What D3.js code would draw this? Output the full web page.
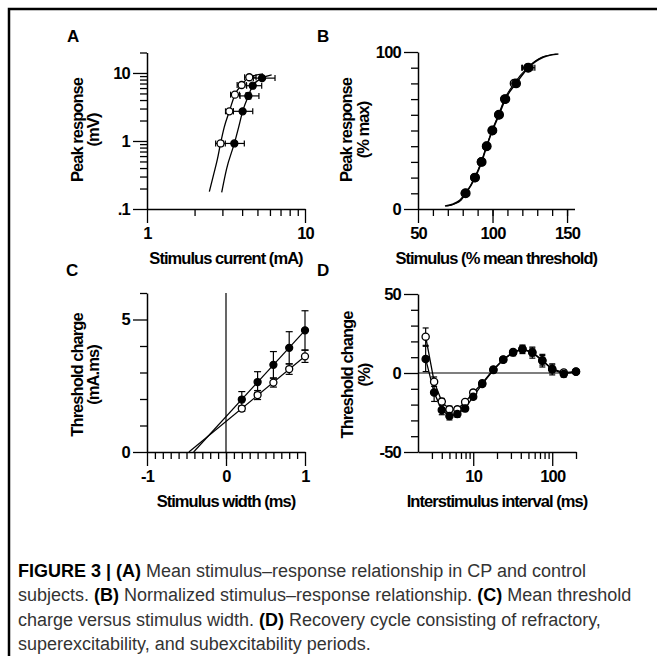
<!DOCTYPE html>
<html>
<head>
<meta charset="utf-8">
<script src="https://cdnjs.cloudflare.com/ajax/libs/d3/7.8.5/d3.min.js"></script>
<style>
  body { margin: 0; background: #fff; }
  svg text { font-family: "Liberation Sans", Arial, sans-serif; }
  .tick text { font-weight: bold; font-size: 16.5px; letter-spacing: -0.8px; fill: #000; }
  .ttl { font-weight: bold; font-size: 16.5px; letter-spacing: -0.95px; }
</style>
</head>
<body>
<svg id="fig" width="657" height="656"></svg>
<script>
// ---- A: stimulus-response (mA -> mV), log/log
const aCtrlX = [2.92, 3.32, 3.6, 3.97, 4.44];
const aCtrlXlo = [2.72, 3.14, 3.38, 3.72, 4.15];
const aCtrlXhi = [3.13, 3.52, 3.85, 4.25, 4.9];
const aCtrlY = [0.92, 2.73, 4.8, 6.66, 8.65];
const aCPX = [3.57, 4.03, 4.38, 4.67, 5.35];
const aCPXlo = [3.04, 3.52, 3.88, 4.27, 4.71];
const aCPXhi = [4.13, 4.67, 5.11, 5.32, 6.46];
const aCPY = [0.92, 2.73, 4.6, 6.5, 8.4];
const aCPYlo = [0.87, 2.55, 4.15, 6.1, 8.0];
const aCPYhi = [0.98, 2.9, 5.1, 6.9, 8.8];
const aCtrlCurveX = [2.48, 2.63, 2.79, 2.92, 3.08, 3.32, 3.6, 3.97, 4.44, 5.42];
const aCtrlCurveY = [0.18, 0.31, 0.54, 0.92, 1.59, 2.73, 4.8, 6.66, 8.65, 9.67];
const aCPCurveX = [2.97, 3.19, 3.57, 3.8, 4.03, 4.38, 4.67, 5.35, 6.15];
const aCPCurveY = [0.176, 0.39, 0.92, 1.59, 2.73, 4.6, 6.5, 8.4, 9.35];

// ---- B: normalised stimulus-response
const bResp = [10, 20, 30, 40, 50, 60, 70, 80, 90];
const bCPStim = [82, 88.3, 92.7, 96.1, 99.9, 104.4, 108.6, 115.8, 124];
const bCPErr = [1, 0.6, 0.5, 0.4, 0.4, 0.5, 0.7, 1.2, 4.4];
const bCtrlStim = [81.6, 88, 92.5, 96, 99.8, 104.1, 108.1, 114.6, 123.6];
const bCtrlErr = [1, 0.6, 0.5, 0.4, 0.4, 0.5, 0.7, 1.5, 3.5];
const bCurveY = [1.9, 3.2, 5.7, 10, 20, 30, 40, 50, 60, 70, 80, 90, 96.6, 98.7];
const bCPCurveX = [68.1, 73.7, 78.2, 82, 88.3, 92.7, 96.1, 99.9, 104.4, 108.6, 115.8, 124, 134, 144.2];
const bCtrlCurveX = [69, 74.5, 79, 82.3, 88, 92.4, 96, 99.7, 104, 108, 114.6, 123.5, 133, 143];

// ---- C: charge-duration
const cWidth = [0.2, 0.4, 0.6, 0.8, 1.0];
const cCP = [1.98, 2.64, 3.29, 3.93, 4.59];
const cCPErr = [0.3, 0.39, 0.5, 0.61, 0.74];
const cCtrl = [1.64, 2.15, 2.62, 3.13, 3.61];
const cCtrlErr = [0.1, 0.17, 0.17, 0.2, 0.23];
const cCPLineX = [-0.41, 1], cCPLineY = [0, 4.59];
const cCtrlLineX = [-0.47, 1], cCtrlLineY = [0, 3.61];

// ---- D: recovery cycle
const dISI = [2.5, 3.2, 4, 5, 6.3, 7.9, 10, 13, 18, 24, 32, 42, 56, 75, 100, 140, 200];
const dCP = [8.9, -12.4, -23.4, -27.2, -26, -22.4, -15, -7, 1.9, 8.4, 12.9, 15, 12.9, 7.8, 2.3, -0.6, 0.8];
const dCPErr = [8, 5.6, 3, 2.5, 2, 2, 1.5, 1.5, 1.5, 1.5, 2, 2.7, 3.5, 4, 3.5, 2, 1.5];
const dCtrl = [23, -5.5, -18.1, -23, -23, -18.4, -12.4, -6.5, 2.2, 8.6, 13.3, 15.2, 13.2, 8.0, 2.6, 0.3, 0.9];
const dCtrlErr = [5.5, 3, 2, 2, 1.5, 1.5, 1.5, 1.5, 1.5, 1.5, 1.5, 2, 2.5, 3, 2.5, 1.5, 1];

const caption = [
  [["FIGURE 3 | (A)", true], [" Mean stimulus\u2013response relationship in CP and control", false]],
  [["subjects. ", false], ["(B)", true], [" Normalized stimulus\u2013response relationship. ", false], ["(C)", true], [" Mean threshold", false]],
  [["charge versus stimulus width. ", false], ["(D)", true], [" Recovery cycle consisting of refractory,", false]],
  [["superexcitability, and subexcitability periods.", false]]
];

const svg = d3.select("#fig");

// frame (only top and left edges are inside the picture)
svg.append("rect").attr("x", 9).attr("y", 9).attr("width", 700).attr("height", 700)
  .attr("fill", "none").attr("stroke", "#000").attr("stroke-width", 2.5);

function axes(x, y, o) {
  const g = svg.append("g");
  const xb = y.range()[0], yl = x.range()[0];
  // minor ticks first
  g.append("g").attr("transform", `translate(0,${xb})`)
    .call(d3.axisBottom(x).tickValues(o.xMinor).tickSize(7).tickFormat(""))
    .call(s => s.select(".domain").remove());
  g.append("g").attr("transform", `translate(${yl},0)`)
    .call(d3.axisLeft(y).tickValues(o.yMinor).tickSize(7).tickFormat(""))
    .call(s => s.select(".domain").remove());
  g.append("g").attr("transform", `translate(0,${xb})`)
    .call(d3.axisBottom(x).tickValues(o.xMajor).tickSize(14).tickPadding(4).tickFormat(o.xFmt || (d => d)).tickSizeOuter(0));
  g.append("g").attr("transform", `translate(${yl},0)`)
    .call(d3.axisLeft(y).tickValues(o.yMajor).tickSize(14).tickPadding(3).tickFormat(o.yFmt || (d => d)).tickSizeOuter(0));
  g.selectAll(".domain").attr("stroke-width", 1.5);
  g.selectAll(".tick line").attr("stroke-width", 1.3);
  // titles
  g.append("text").attr("class", "ttl").attr("x", (x.range()[0] + x.range()[1]) / 2).attr("y", o.xTitleY)
    .attr("text-anchor", "middle").attr("dominant-baseline", "central").text(o.xTitle);
  o.yTitle.forEach((t, i) => {
    g.append("text").attr("class", "ttl")
      .attr("transform", `translate(${o.yTitleX[i]},${o.yTitleMid}) rotate(-90)`)
      .attr("text-anchor", "middle").attr("dominant-baseline", "central").text(t);
  });
  svg.append("text").attr("x", o.label[0]).attr("y", o.label[1])
    .attr("font-weight", "bold").attr("font-size", 17).text(o.label[2]);
}

function logMinor(lo, hi) {
  const v = [];
  for (let p = lo; p < hi; p *= 10) for (let k = 2; k <= 9; k++) v.push(p * k);
  return v;
}

function curve(x, y, xs, ys, w) {
  const line = d3.line().x(i => x(xs[i])).y(i => y(ys[i])).curve(d3.curveMonotoneX);
  svg.append("path").attr("d", line(d3.range(xs.length)))
    .attr("fill", "none").attr("stroke", "#000").attr("stroke-width", w || 1.3);
}

function vErr(x, y, xs, lo, hi, cap) {
  const g = svg.append("g").attr("stroke", "#000").attr("stroke-width", 1.2);
  xs.forEach((d, i) => {
    const cx = x(d);
    g.append("line").attr("x1", cx).attr("x2", cx).attr("y1", y(lo[i])).attr("y2", y(hi[i]));
    [lo[i], hi[i]].forEach(v => g.append("line").attr("x1", cx - cap).attr("x2", cx + cap).attr("y1", y(v)).attr("y2", y(v)));
  });
}

function hErr(x, y, ys, lo, hi, cap) {
  const g = svg.append("g").attr("stroke", "#000").attr("stroke-width", 1.2);
  ys.forEach((d, i) => {
    const cy = y(d);
    g.append("line").attr("y1", cy).attr("y2", cy).attr("x1", x(lo[i])).attr("x2", x(hi[i]));
    [lo[i], hi[i]].forEach(v => g.append("line").attr("y1", cy - cap).attr("y2", cy + cap).attr("x1", x(v)).attr("x2", x(v)));
  });
}

function dots(x, y, xs, ys, filled, r) {
  svg.append("g").selectAll("circle").data(d3.range(xs.length)).join("circle")
    .attr("cx", i => x(xs[i])).attr("cy", i => y(ys[i])).attr("r", r)
    .attr("fill", filled ? "#000" : "#fff").attr("stroke", "#000").attr("stroke-width", 1.3);
}

// ---------- Panel A
{
  const x = d3.scaleLog().domain([1, 10]).range([147, 305]);
  const y = d3.scaleLog().domain([0.1, 20]).range([209, 52.5]);
  axes(x, y, {
    xMajor: [1, 10], xMinor: logMinor(1, 10),
    yMajor: [0.1, 1, 10], yMinor: logMinor(0.1, 10).concat([20]),
    yFmt: d => d === 0.1 ? ".1" : d,
    xTitle: "Stimulus current (mA)", xTitleY: 258,
    yTitle: ["Peak response", "(mV)"], yTitleX: [77, 93], yTitleMid: 130,
    label: [67, 42, "A"]
  });
  curve(x, y, aCtrlCurveX, aCtrlCurveY);
  curve(x, y, aCPCurveX, aCPCurveY);
  hErr(x, y, aCtrlY, aCtrlXlo, aCtrlXhi, 3);
  hErr(x, y, aCPY, aCPXlo, aCPXhi, 3);
  vErr(x, y, aCPX, aCPYlo, aCPYhi, 3);
  dots(x, y, aCtrlX, aCtrlY, false, 3.5);
  dots(x, y, aCPX, aCPY, true, 3.5);
}

// ---------- Panel B
{
  const x = d3.scaleLinear().domain([50, 155]).range([418, 574.5]);
  const y = d3.scaleLinear().domain([0, 100]).range([209, 52]);
  axes(x, y, {
    xMajor: [50, 100, 150], xMinor: d3.range(60, 151, 10),
    yMajor: [0, 100], yMinor: d3.range(10, 100, 10),
    xTitle: "Stimulus (% mean threshold)", xTitleY: 258,
    yTitle: ["Peak response", "(% max)"], yTitleX: [346, 363], yTitleMid: 130,
    label: [317, 42, "B"]
  });
  curve(x, y, bCtrlCurveX, bCurveY, 1.1);
  curve(x, y, bCPCurveX, bCurveY, 1.6);
  hErr(x, y, bResp, bCtrlStim.map((d, i) => d - bCtrlErr[i]), bCtrlStim.map((d, i) => d + bCtrlErr[i]), 3);
  hErr(x, y, bResp, bCPStim.map((d, i) => d - bCPErr[i]), bCPStim.map((d, i) => d + bCPErr[i]), 3);
  dots(x, y, bCtrlStim, bResp, false, 4);
  dots(x, y, bCPStim, bResp, true, 4.3);
}

// ---------- Panel C
{
  const x = d3.scaleLinear().domain([-1, 1]).range([147, 305]);
  const y = d3.scaleLinear().domain([0, 6]).range([452, 293]);
  axes(x, y, {
    xMajor: [-1, 0, 1], xMinor: d3.range(-9, 10).map(d => d / 10),
    yMajor: [0, 5], yMinor: [1, 2, 3, 4, 6],
    xTitle: "Stimulus width (ms)", xTitleY: 501,
    yTitle: ["Threshold charge", "(mA.ms)"], yTitleX: [77, 93], yTitleMid: 375,
    label: [66, 276, "C"]
  });
  svg.append("line").attr("x1", x(0)).attr("x2", x(0)).attr("y1", y(6)).attr("y2", y(0))
    .attr("stroke", "#000").attr("stroke-width", 1.2);
  curve(x, y, cCtrlLineX, cCtrlLineY, 1.2);
  curve(x, y, cCPLineX, cCPLineY, 1.2);
  vErr(x, y, cWidth, cCtrl.map((d, i) => d - cCtrlErr[i]), cCtrl.map((d, i) => d + cCtrlErr[i]), 3.5);
  vErr(x, y, cWidth, cCP.map((d, i) => d - cCPErr[i]), cCP.map((d, i) => d + cCPErr[i]), 3.5);
  dots(x, y, cWidth, cCtrl, false, 3.5);
  dots(x, y, cWidth, cCP, true, 3.5);
}

// ---------- Panel D
{
  const x = d3.scaleLog().domain([2, 200]).range([418, 576]);
  const y = d3.scaleLinear().domain([-50, 50]).range([452, 294]);
  axes(x, y, {
    xMajor: [10, 100], xMinor: [3, 4, 5, 6, 7, 8, 9, 20, 30, 40, 50, 60, 70, 80, 90, 200],
    yMajor: [-50, 0, 50], yMinor: [-40, -30, -20, -10, 10, 20, 30, 40],
    xTitle: "Interstimulus interval (ms)", xTitleY: 501,
    yTitle: ["Threshold change", "(%)"], yTitleX: [347, 364], yTitleMid: 375,
    label: [317, 276, "D"]
  });
  svg.append("line").attr("x1", x(2)).attr("x2", x(200)).attr("y1", y(0)).attr("y2", y(0))
    .attr("stroke", "#000").attr("stroke-width", 1.2);
  const lineD = (ys) => d3.line().x(i => x(dISI[i])).y(i => y(ys[i]));
  svg.append("path").attr("d", lineD(dCtrl)(d3.range(dISI.length))).attr("fill", "none").attr("stroke", "#000").attr("stroke-width", 1.3);
  svg.append("path").attr("d", lineD(dCP)(d3.range(dISI.length))).attr("fill", "none").attr("stroke", "#000").attr("stroke-width", 1.3);
  vErr(x, y, dISI, dCtrl.map((d, i) => d - dCtrlErr[i]), dCtrl.map((d, i) => d + dCtrlErr[i]), 3);
  vErr(x, y, dISI, dCP.map((d, i) => d - dCPErr[i]), dCP.map((d, i) => d + dCPErr[i]), 3);
  dots(x, y, dISI, dCtrl, false, 3.6);
  dots(x, y, dISI, dCP, true, 3.6);
}

// ---------- caption
caption.forEach((parts, i) => {
  const t = svg.append("text").attr("x", 18).attr("y", 571 + i * 24.3)
    .attr("dominant-baseline", "central").attr("font-size", 18);
  parts.forEach(([s, b]) => {
    t.append("tspan").text(s).attr("font-weight", b ? "bold" : "normal").attr("fill", b ? "#000" : "#333");
  });
});
</script>
</body>
</html>
